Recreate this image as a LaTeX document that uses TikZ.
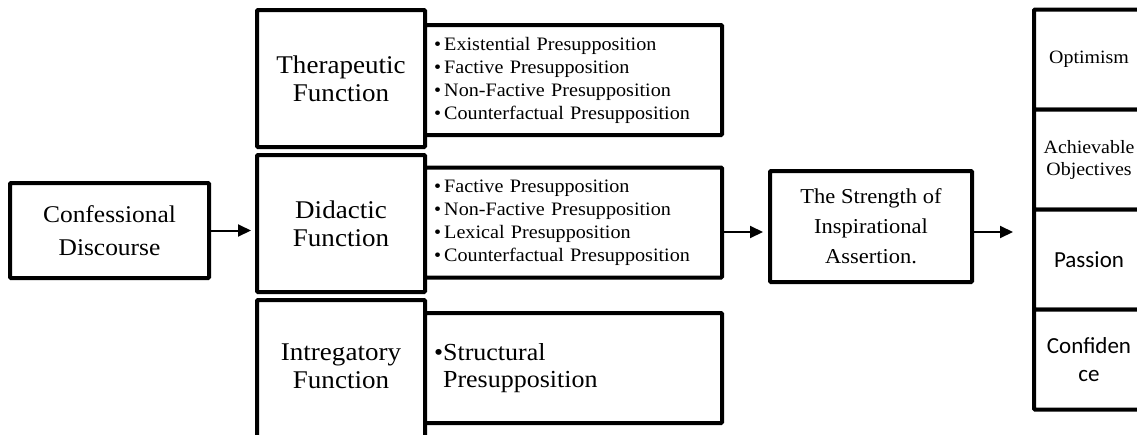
\documentclass[tikz,border=0pt]{standalone}
\usepackage{fontspec}
\setmainfont{Liberation Serif}[FakeStretch=1.06]
\newfontfamily\calib{Carlito}
\usetikzlibrary{arrows.meta,calc}
\tikzset{
  bx/.style={draw=black, line width=4pt, fill=white, rectangle, rounded corners=1pt, align=center, inner sep=0pt},
  mainbox/.style={bx, font=\fontsize{25.5}{28}\selectfont},
  listbox/.style={bx, align=left, inner xsep=9pt, font=\fontsize{19}{23}\selectfont},
  sidebox/.style={bx, minimum width=110pt, minimum height=100pt, font=\fontsize{18.8}{22}\selectfont},
  calbox/.style={sidebox, font=\calib\fontsize{23}{28}\selectfont},
  arr/.style={line width=2pt, -{Triangle[length=13pt,width=12pt]}}
}
\begin{document}
\begin{tikzpicture}[x=1pt,y=-1pt]
\useasboundingbox (0,0) rectangle (1137,434);
\clip (0,0) rectangle (1137,434);
\node[mainbox, minimum width=199pt, minimum height=95pt, font=\fontsize{24}{33}\selectfont] (conf) at (109.5,230.5) {Confessional\\Discourse};
\node[mainbox, minimum width=168pt, minimum height=137pt] (ther) at (341,78.5) {Therapeutic\\Function};
\node[listbox, minimum width=297pt, minimum height=110pt, text width=279pt] (therl) at (573.5,80) {\textbullet\,Existential Presupposition\\\textbullet\,Factive Presupposition\\\textbullet\,Non-Factive Presupposition\\\textbullet\,Counterfactual Presupposition};
\node[mainbox, minimum width=168pt, minimum height=137pt] (did) at (341,223.5) {Didactic\\Function};
\node[listbox, minimum width=297pt, minimum height=110pt, text width=279pt] (didl) at (573.5,222.5) {\textbullet\,Factive Presupposition\\\textbullet\,Non-Factive Presupposition\\\textbullet\,Lexical Presupposition\\\textbullet\,Counterfactual Presupposition};
\node[mainbox, minimum width=168pt, minimum height=145pt, text depth=12pt] (intr) at (341,372.5) {Intregatory\\Function};
\node[listbox, minimum width=297pt, minimum height=110pt, text width=279pt, font=\fontsize{24.5}{27}\selectfont] (strl) at (573.5,368) {\textbullet Structural\\\hphantom{\textbullet}Presupposition};
\node[mainbox, minimum width=202pt, minimum height=111pt, font=\fontsize{21.2}{30}\selectfont] (str) at (871,226.5) {The Strength of\\Inspirational\\Assertion.};
\node[sidebox] (opt) at (1089,59.5) {Optimism};
\node[sidebox] (ach) at (1089,159.5) {Achievable\\Objectives};
\node[calbox] (pas) at (1089,259.5) {Passion};
\node[calbox] (con) at (1089,359.5) {Confiden\\ce};
\coordinate (a2) at (0,232);
\coordinate (tip3) at (1013,232);
\draw[arr] (conf.east) -- ($(conf.east -| did.west)+(-4,0)$);
\draw[arr] (didl.east |- a2) -- ($(str.west |- a2)+(-5,0)$);
\draw[arr] (str.east |- a2) -- (tip3);
\end{tikzpicture}
\end{document}
